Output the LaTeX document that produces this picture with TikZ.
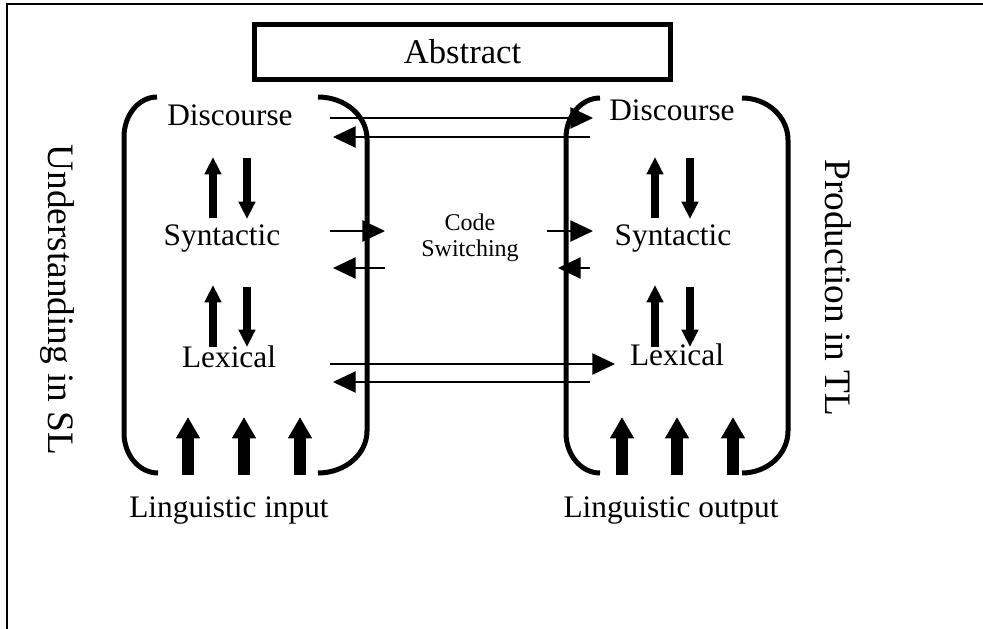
\documentclass[tikz,border=0pt]{standalone}
\usepackage{fontspec}
\setmainfont{Liberation Serif}
\usetikzlibrary{arrows.meta}
\tikzset{
  klammer/.style={line width=3.75pt},
  ebene/.style={font=\fontsize{23.5}{28}\selectfont, inner sep=0pt},
  pfeil/.style={-{Triangle[length=17pt,width=16pt]}, line width=1pt},
  dickpfeil/.style={-{Triangle[length=13pt,width=12pt]}, line width=6pt},
  breitpfeil/.style={-{Triangle[length=16pt,width=17pt]}, line width=9pt},
  seite/.style={font=\fontsize{28}{32}\selectfont, rotate=-90, anchor=base, inner sep=0pt}
}
\begin{document}
\begin{tikzpicture}[x=0.75pt, y=-0.75pt]
\useasboundingbox (0,0) rectangle (983,629);
% Rahmen
\draw[line width=1.5pt] (983,4) -- (7,4) -- (7,629);
\node[draw, line width=3.75pt, minimum width=312pt, minimum height=41pt, inner sep=0pt, font=\fontsize{26}{30}\selectfont] (abs) at (462.5,52) {Abstract};
% Klammern
\draw[klammer] (157,97) arc[start angle=-90,end angle=-180,x radius=33,y radius=40] -- (124,433) arc[start angle=180,end angle=90,x radius=34,y radius=40];
\draw[klammer] (318,97) arc[start angle=-90,end angle=0,x radius=49,y radius=42] -- (367,431) arc[start angle=0,end angle=90,x radius=49,y radius=42];
\draw[klammer] (600,98) arc[start angle=-90,end angle=-180,x radius=34,y radius=40] -- (566,433) arc[start angle=180,end angle=90,x radius=34,y radius=40];
\draw[klammer] (742,98) arc[start angle=-90,end angle=0,x radius=46,y radius=42] -- (788,431) arc[start angle=0,end angle=90,x radius=46,y radius=42];
% Ebenen
\node[ebene] (dl) at (230,115) {Discourse};
\node[ebene] (sl) at (222,239) {Syntactic};
\node[ebene] (ll) at (229,357) {Lexical};
\node[ebene] (dr) at (672,110) {Discourse};
\node[ebene] (sr) at (673,239) {Syntactic};
\node[ebene] (lr) at (677,355) {Lexical};
\node[font=\fontsize{18}{19.5}\selectfont, align=center, inner sep=0pt] (cs) at (470,238) {Code\\Switching};
\node[ebene] (in) at (229,511) {Linguistic input};
\node[ebene] (out) at (671,511) {Linguistic output};
\node[seite] (und) at (48,300) {Understanding in SL};
\node[seite] (prod) at (825,288) {Production in TL};
% duenne Pfeile
\draw[pfeil] ([shift={(100,3)}]dl.center) -- ([shift={(-79,8)}]dr.center);
\draw[pfeil] ([shift={(-82,27)}]dr.center) -- ([shift={(103,22)}]dl.center);
\draw[pfeil] ([shift={(108,-8)}]sl.center) -- ([shift={(-85,-7)}]cs.center);
\draw[pfeil] ([shift={(-85,30)}]cs.center) -- ([shift={(111,29)}]sl.center);
\draw[pfeil] ([shift={(77,-7)}]cs.center) -- ([shift={(-80,-8)}]sr.center);
\draw[pfeil] ([shift={(-83,29)}]sr.center) -- ([shift={(88,30)}]cs.center);
\draw[pfeil] ([shift={(101,7)}]ll.center) -- ([shift={(-62,9)}]lr.center);
\draw[pfeil] ([shift={(-87,27)}]lr.center) -- ([shift={(104,25)}]ll.center);
% dicke Pfeile zwischen den Ebenen
\draw[dickpfeil] ([shift={(-9,-21)}]sl.center) -- ([shift={(-17,42)}]dl.center);
\draw[dickpfeil] ([shift={(17,43)}]dl.center) -- ([shift={(25,-20)}]sl.center);
\draw[dickpfeil] ([shift={(-16,-10)}]ll.center) -- ([shift={(-9,46)}]sl.center);
\draw[dickpfeil] ([shift={(25,48)}]sl.center) -- ([shift={(18,-10)}]ll.center);
\draw[dickpfeil] ([shift={(-18,-21)}]sr.center) -- ([shift={(-17,47)}]dr.center);
\draw[dickpfeil] ([shift={(18,48)}]dr.center) -- ([shift={(17,-20)}]sr.center);
\draw[dickpfeil] ([shift={(-22,-8)}]lr.center) -- ([shift={(-18,46)}]sr.center);
\draw[dickpfeil] ([shift={(17,48)}]sr.center) -- ([shift={(13,-8)}]lr.center);
% Eingabe und Ausgabe
\foreach \dx in {-41,15,71}
\draw[breitpfeil] ([shift={(\dx,-36)}]in.center) -- ++(0,-58);
\foreach \dx in {-49,6,62}
\draw[breitpfeil] ([shift={(\dx,-36)}]out.center) -- ++(0,-58);
\end{tikzpicture}
\end{document}
